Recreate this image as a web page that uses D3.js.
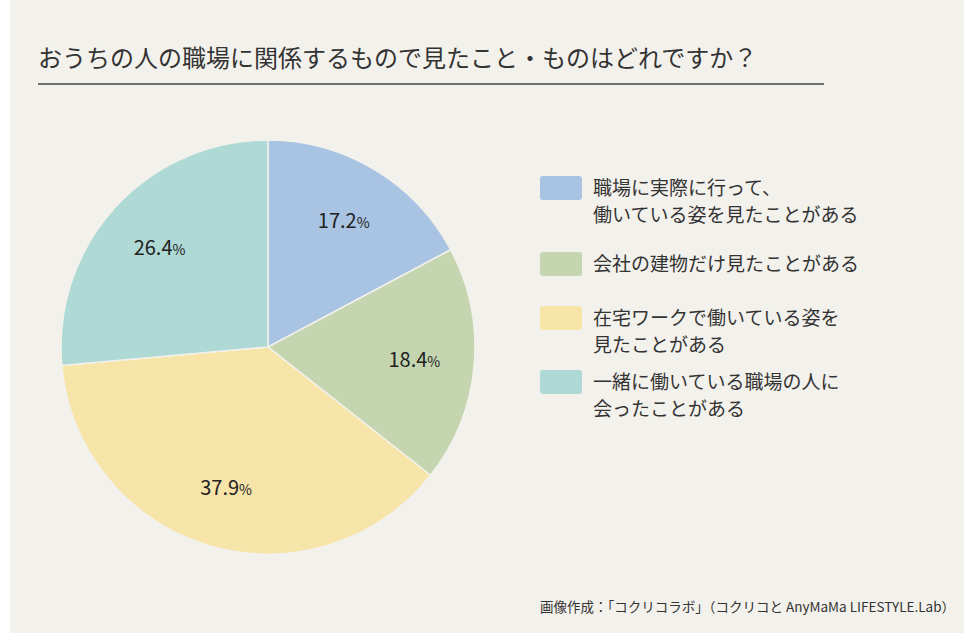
<!DOCTYPE html>
<html><head><meta charset="utf-8">
<script src="https://cdn.jsdelivr.net/npm/d3@7"></script>
<style>
body{margin:0;background:#fff}
text{font-family:"Noto Sans CJK JP","Noto Sans",sans-serif}
</style></head>
<body><svg id="chart"></svg>
<script>
const width = 974
const height = 633

const categories = ['職場に実際に行って、\n働いている姿を見たことがある', '会社の建物だけ見たことがある', '在宅ワークで働いている姿を\n見たことがある', '一緒に働いている職場の人に\n会ったことがある']
const values = [17.2, 18.4, 37.9, 26.4]
const colors = ['#a9c3e3', '#c4d5b0', '#f7e4a9', '#aed9d4']

const svg = d3.select('#chart').attr('width', width).attr('height', height)

svg.append('rect').attr('x', 10).attr('y', 0).attr('width', width - 20).attr('height', height).attr('fill', '#f3f1ec')

// title
svg.append('text').attr('x', 38).attr('y', 67).attr('font-size', 24).attr('fill', '#333')
  .text('おうちの人の職場に関係するもので見たこと・ものはどれですか？')
svg.append('line').attr('x1', 38).attr('x2', 824).attr('y1', 84).attr('y2', 84)
  .attr('stroke', '#444').attr('stroke-width', 1.5)

// pie
const cx = 268, cy = 347, r = 207
const pie = d3.pie().sort(null)(values)
const arc = d3.arc().innerRadius(0).outerRadius(r)
const labelArc = d3.arc().innerRadius(r * 0.71).outerRadius(r * 0.71)
const g = svg.append('g').attr('transform', `translate(${cx},${cy})`)
g.selectAll('path').data(pie).enter().append('path')
  .attr('d', arc).attr('fill', (d, i) => colors[i])
  .attr('stroke', '#f3f1ec').attr('stroke-width', 1.5)
const lab = g.selectAll('text.lab').data(pie).enter().append('text')
  .attr('class', 'lab')
  .attr('transform', d => `translate(${labelArc.centroid(d)})`)
  .attr('text-anchor', 'middle').attr('dy', '0.35em')
  .attr('font-size', 20).attr('fill', '#222')
lab.append('tspan').text(d => d.data.toFixed(1))
lab.append('tspan').attr('font-size', 14).text('%')

// legend
const legendY = [188, 264, 318, 382]
const lg = svg.append('g')
categories.forEach((c, i) => {
  const y = legendY[i]
  lg.append('rect').attr('x', 540).attr('y', y - 12).attr('width', 42).attr('height', 24)
    .attr('rx', 3).attr('fill', colors[i])
  c.split('\n').forEach((line, j) => {
    lg.append('text').attr('x', 593).attr('y', y + 7 + j * 27)
      .attr('font-size', 19).attr('fill', '#333').text(line)
  })
})

// source
svg.append('text').attr('x', 955).attr('y', 612).attr('text-anchor', 'end')
  .attr('font-size', 13.5).attr('fill', '#333')
  .text('画像作成：「コクリコラボ」（コクリコと AnyMaMa LIFESTYLE.Lab）')
</script></body></html>
